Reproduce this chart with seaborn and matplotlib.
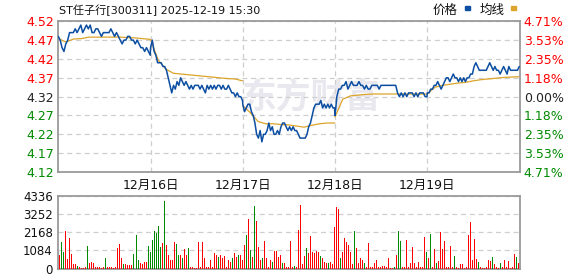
import numpy as np
import pandas as pd
import matplotlib
matplotlib.use("Agg")
import matplotlib.pyplot as plt
from matplotlib.patches import Rectangle
import seaborn as sns

# ---------------- data ----------------
title = "ST任子行[300311] 2025-12-19 15:30"
legend_labels = ["价格", "均线"]
day_labels = ["12月16日", "12月17日", "12月18日", "12月19日"]
price_ticks = [4.52, 4.47, 4.42, 4.37, 4.32, 4.27, 4.22, 4.17, 4.12]
pct_labels = ["4.71%", "3.53%", "2.35%", "1.18%", "0.00%", "1.18%", "2.35%", "3.53%", "4.71%"]
vol_ticks = [0, 1084, 2168, 3252, 4336]
watermark = "东方财富"

price_d1 = [4.48, 4.47, 4.45, 4.44, 4.46, 4.47, 4.49, 4.49, 4.49, 4.50, 4.49, 4.50, 4.51, 4.49, 4.50,
            4.51, 4.50, 4.51, 4.49, 4.49, 4.50, 4.50, 4.49, 4.48, 4.49, 4.49, 4.49, 4.49, 4.50, 4.49,
            4.48, 4.49, 4.48, 4.47, 4.46, 4.47, 4.47, 4.48, 4.48, 4.47, 4.47, 4.46, 4.47, 4.46, 4.45,
            4.45, 4.44, 4.45, 4.44, 4.43]
price_d2 = [4.45, 4.47, 4.44, 4.43, 4.41, 4.41, 4.41, 4.40, 4.40, 4.39, 4.37, 4.35, 4.33, 4.35, 4.34,
            4.36, 4.35, 4.37, 4.36, 4.35, 4.36, 4.35, 4.34, 4.35, 4.34, 4.35, 4.35, 4.35, 4.34, 4.35,
            4.34, 4.33, 4.35, 4.34, 4.35, 4.34, 4.35, 4.34, 4.35, 4.35, 4.34, 4.35, 4.34, 4.34, 4.35,
            4.34, 4.33, 4.33, 4.32, 4.33, 4.32, 4.32, 4.31]
price_d3 = [4.30, 4.28, 4.29, 4.30, 4.30, 4.28, 4.27, 4.25, 4.22, 4.21, 4.23, 4.20, 4.22, 4.22, 4.23,
            4.25, 4.23, 4.24, 4.22, 4.22, 4.23, 4.22, 4.24, 4.25, 4.25, 4.24, 4.23, 4.24, 4.23, 4.24,
            4.23, 4.23, 4.22, 4.21, 4.21, 4.21, 4.21, 4.22, 4.24, 4.25, 4.27, 4.29, 4.30, 4.30, 4.30,
            4.31, 4.29, 4.30, 4.29, 4.30, 4.29, 4.30, 4.29, 4.29]
price_d4 = [4.27, 4.32, 4.34, 4.34, 4.35, 4.35, 4.36, 4.34, 4.35, 4.36, 4.35, 4.35, 4.35, 4.36, 4.35,
            4.35, 4.34, 4.35, 4.34, 4.34, 4.35, 4.35, 4.35, 4.35, 4.34, 4.35, 4.35, 4.35, 4.35, 4.35,
            4.35, 4.35, 4.35, 4.35, 4.33, 4.32, 4.33, 4.32, 4.33, 4.32, 4.33, 4.33, 4.33, 4.32, 4.33,
            4.32, 4.33, 4.33, 4.33, 4.32, 4.32]
price_d5 = [4.33, 4.33, 4.34, 4.34, 4.35, 4.35, 4.36, 4.35, 4.34, 4.35, 4.36, 4.37, 4.37, 4.36, 4.37,
            4.38, 4.37, 4.37, 4.36, 4.37, 4.36, 4.37, 4.36, 4.37, 4.37, 4.38, 4.38, 4.40, 4.41, 4.40,
            4.39, 4.39, 4.39, 4.39, 4.39, 4.40, 4.41, 4.40, 4.39, 4.40, 4.39, 4.39, 4.38, 4.39, 4.40,
            4.39, 4.38, 4.40, 4.39, 4.39, 4.39, 4.39, 4.39, 4.40]

avg_d1 = [4.474, 4.465, 4.473, 4.474, 4.478, 4.478, 4.478, 4.478, 4.478, 4.477, 4.476, 4.474, 4.472]
avg_d2 = [4.472, 4.417, 4.393, 4.382, 4.380, 4.378, 4.376, 4.374, 4.372, 4.370, 4.368, 4.367, 4.362]
avg_d3 = [4.296, 4.277, 4.254, 4.248, 4.248, 4.246, 4.245, 4.242, 4.239, 4.244, 4.248, 4.250, 4.250]
avg_d4 = [4.266, 4.313, 4.322, 4.324, 4.326, 4.327, 4.327, 4.327, 4.327, 4.327, 4.327, 4.327, 4.327]
avg_d5 = [4.327, 4.345, 4.350, 4.353, 4.356, 4.358, 4.362, 4.365, 4.367, 4.369, 4.371, 4.372, 4.373]

vol_d1 = [800, 1590, 980, 2230, 600, 1830, 900, 300, 250, 150, 80, 60, 60, 100, 1360, 320, 380, 320,
          100, 80, 100, 60, 80, 620, 80, 100, 80, 60, 100, 1220, 1480, 620, 260, 260, 220, 220, 220,
          900, 2030, 520, 320, 300, 380, 420, 1380, 1000]
up_d1 = [1, 0, 0, 1, 1, 1, 1, 1, 1, 0, 1, 1, 1, 1, 0, 1, 1, 1, 1, 1, 1, 1, 1, 0, 1, 1, 1, 1, 1, 1,
         1, 1, 0, 1, 1, 1, 1, 0, 0, 0, 1, 1, 1, 1, 0, 0]
vol_d2 = [1730, 2270, 2130, 2530, 1320, 1530, 4030, 1420, 820, 520, 520, 1570, 1490, 820, 820, 620,
          1180, 820, 1220, 120, 80, 60, 60, 1570, 80, 1570, 620, 100, 80, 520, 80, 920, 820, 720, 820,
          620, 780, 100, 520, 420, 620, 920, 720, 820, 820, 520]
up_d2 = [0, 0, 0, 0, 0, 1, 0, 1, 1, 1, 1, 1, 0, 0, 1, 0, 1, 1, 0, 1, 1, 1, 1, 1, 1, 1, 1, 1, 1, 1,
         1, 1, 1, 0, 1, 1, 1, 1, 1, 1, 0, 1, 1, 0, 1, 1]
vol_d3 = [1420, 2030, 2970, 1120, 720, 3730, 2830, 1320, 520, 620, 1630, 620, 100, 520, 420, 1060,
          1060, 720, 820, 320, 320, 100, 100, 1660, 80, 180, 80, 2330, 3790, 300, 780, 1260, 920, 1930,
          1020, 920, 1060, 1020, 780, 620, 380, 320, 360, 420, 260, 2470]
up_d3 = [1, 0, 1, 0, 1, 0, 1, 1, 1, 0, 1, 1, 1, 1, 0, 1, 1, 1, 1, 0, 1, 1, 1, 1, 1, 0, 1, 1, 1, 1,
         1, 0, 1, 1, 1, 1, 1, 1, 0, 1, 1, 1, 0, 1, 1, 1]
vol_d4 = [3670, 3600, 620, 1020, 1830, 1570, 1420, 1020, 260, 2270, 1260, 320, 660, 520, 360, 80, 1530,
          80, 100, 360, 520, 80, 80, 180, 180, 80, 660, 60, 60, 120, 820, 2270, 1630, 100, 80, 1730, 80,
          320, 1320, 360, 80, 420, 100, 80, 1870, 1020]
up_d4 = [1, 1, 0, 1, 1, 1, 1, 1, 1, 0, 1, 1, 1, 1, 0, 1, 1, 1, 1, 1, 1, 1, 1, 1, 1, 1, 1, 1, 1, 0,
         1, 0, 0, 1, 1, 1, 1, 1, 1, 1, 1, 1, 1, 1, 1, 0]
vol_d5 = [660, 2090, 100, 1180, 320, 480, 2170, 1180, 1630, 100, 100, 1380, 80, 780, 80, 60, 300, 260,
          60, 80, 2030, 2770, 520, 1770, 580, 420, 80, 60, 60, 80, 520, 460, 720, 260, 80, 60, 360, 80,
          520, 80, 480, 60, 80, 860, 720, 360]
up_d5 = [1, 0, 1, 1, 0, 1, 1, 1, 1, 1, 1, 1, 1, 0, 1, 1, 1, 1, 1, 1, 1, 1, 1, 1, 1, 0, 1, 1, 1, 1,
         1, 1, 0, 1, 1, 1, 0, 1, 1, 1, 1, 1, 1, 1, 0, 1]

prices = [price_d1, price_d2, price_d3, price_d4, price_d5]
avgs = [avg_d1, avg_d2, avg_d3, avg_d4, avg_d5]
vols = [vol_d1, vol_d2, vol_d3, vol_d4, vol_d5]
ups = [up_d1, up_d2, up_d3, up_d4, up_d5]

# ---------------- tables ----------------
price_df = pd.concat([pd.DataFrame({"t": d + np.linspace(0, 0.997, len(p)), "price": p})
                      for d, p in enumerate(prices)], ignore_index=True)
avg_df = pd.concat([pd.DataFrame({"t": d + np.linspace(0, 0.997, len(a)), "avg": a, "day": d})
                    for d, a in enumerate(avgs)], ignore_index=True)
vol_df = pd.concat([pd.DataFrame({"t": d + (np.arange(len(v)) + 0.5) / len(v), "vol": v, "up": u})
                    for d, (v, u) in enumerate(zip(vols, ups))], ignore_index=True)

# ---------------- style ----------------
sns.set_style("white")
plt.rcParams["font.family"] = ["DejaVu Sans", "Noto Sans CJK SC"]
plt.rcParams["axes.unicode_minus"] = False

RED = "#ff0000"
GREEN = "#008a00"
BLUE = "#0b4ea2"
ORANGE = "#dca42a"
FRAME = "#9a9a9a"
GRID = "#cfcfcf"

fig = plt.figure(figsize=(5.78, 2.76), dpi=100)
W, H = 578.0, 276.0
L, R = 58.3, 519.5
ax = fig.add_axes([L / W, 1 - 172 / H, (R - L) / W, (172 - 21.3) / H])
axv = fig.add_axes([L / W, 1 - 268.5 / H, (R - L) / W, (268.5 - 196.3) / H])

# watermark
ax.text(0.548, 0.50, watermark, transform=ax.transAxes, ha="center", va="center",
        fontsize=25, fontweight="bold", color="#e8e8ee", family="Noto Sans CJK SC", zorder=0)

# price + average lines
sns.lineplot(data=price_df, x="t", y="price", ax=ax, color=BLUE, lw=1.1,
             estimator=None, sort=False, zorder=3)
sns.lineplot(data=avg_df, x="t", y="avg", units="day", ax=ax, color=ORANGE, lw=0.9,
             estimator=None, sort=False, zorder=2)

ax.set_xlim(0, 5)
ax.set_ylim(price_ticks[-1], price_ticks[0])
ax.set_xlabel("")
ax.set_ylabel("")
ax.set_yticks(price_ticks)
ax.set_yticklabels([f"{p:.2f}" for p in price_ticks])
mid = len(price_ticks) // 2
for i, lab in enumerate(ax.get_yticklabels()):
    lab.set_color(RED if i < mid else ("#222222" if i == mid else GREEN))
ax.set_xticks([1, 2, 3, 4])
ax.set_xticklabels(day_labels)
ax.tick_params(axis="both", length=0, labelsize=9, pad=3)
ax.tick_params(axis="x", pad=5, colors="#111111")
ax.grid(True, axis="both", ls=(0, (4, 3)), color=GRID, lw=0.9)
for s in ax.spines.values():
    s.set_color(FRAME)
    s.set_linewidth(1.3)

ax2 = ax.twinx()
ax2.set_ylim(price_ticks[-1], price_ticks[0])
ax2.set_yticks(price_ticks)
ax2.set_yticklabels(pct_labels)
for i, lab in enumerate(ax2.get_yticklabels()):
    lab.set_color(RED if i < mid else ("#222222" if i == mid else GREEN))
ax2.tick_params(axis="y", length=0, labelsize=9, pad=3)
for s in ax2.spines.values():
    s.set_visible(False)

# volume bars
red_df = vol_df[vol_df["up"] == 1]
green_df = vol_df[vol_df["up"] == 0]
axv.vlines(red_df["t"], 0, red_df["vol"], colors=RED, lw=0.72, antialiased=False, zorder=3)
axv.vlines(green_df["t"], 0, green_df["vol"], colors=GREEN, lw=0.72, antialiased=False, zorder=3)
axv.axhline(0, color=RED, lw=1.2, zorder=2)
axv.set_xlim(0, 5)
axv.set_ylim(0, vol_ticks[-1])
axv.set_yticks(vol_ticks)
axv.set_yticklabels([str(v) for v in vol_ticks])
axv.set_xticks([])
axv.tick_params(axis="y", length=0, labelsize=8.5, pad=4, colors="#111111")
axv.grid(True, axis="y", ls=(0, (4, 3)), color=GRID, lw=0.9)
for s in axv.spines.values():
    s.set_color(FRAME)
    s.set_linewidth(1.3)

# title + legend
fig.text(59 / W, 1 - 10 / H, title, ha="left", va="center", fontsize=8, color="#111111")
fig.text(433 / W, 1 - 10 / H, legend_labels[0], ha="left", va="center", fontsize=9,
         color="#111111", family="Noto Sans CJK SC")
fig.patches.append(Rectangle((465 / W, 1 - 10 / H), 5 / W, 3.5 / H, transform=fig.transFigure,
                             color=BLUE))
fig.text(480 / W, 1 - 10 / H, legend_labels[1], ha="left", va="center", fontsize=9,
         color="#111111", family="Noto Sans CJK SC")
fig.patches.append(Rectangle((511 / W, 1 - 10 / H), 5 / W, 3.5 / H, transform=fig.transFigure,
                             color=ORANGE))

fig.savefig("out.png", dpi=100, facecolor="white")
